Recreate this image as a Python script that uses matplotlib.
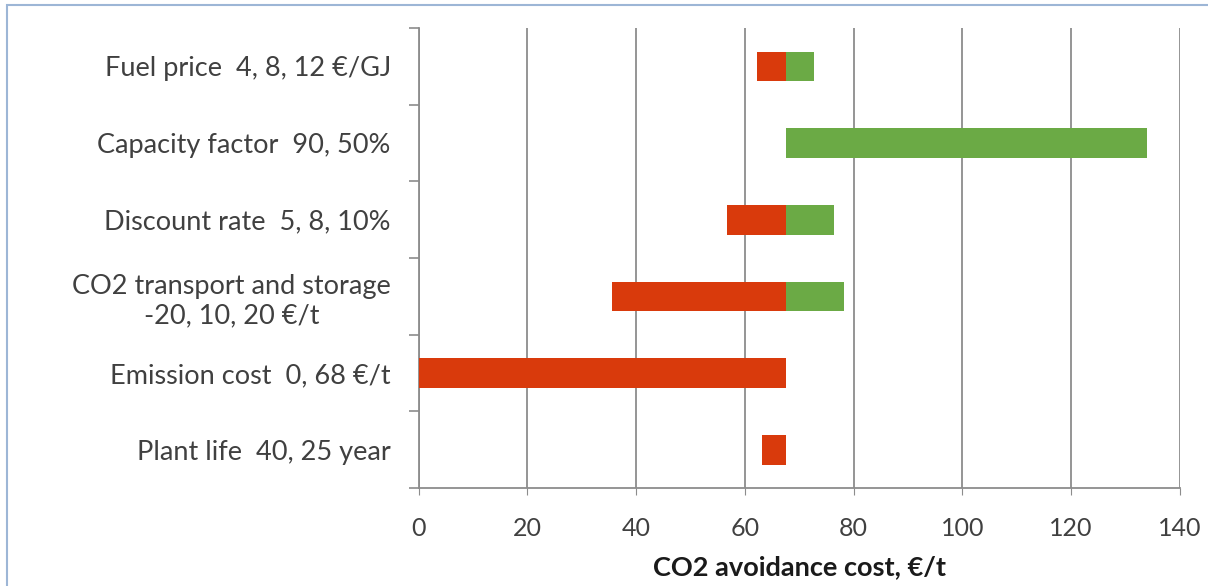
import numpy as np
import matplotlib.pyplot as plt
from matplotlib.patches import Rectangle

# sensitivity of the CO2 avoidance cost to each input (tornado chart)
labels = ['Fuel price  4, 8, 12 €/GJ',
          'Capacity factor  90, 50%',
          'Discount rate  5, 8, 10%',
          'CO2 transport and storage\n-20, 10, 20 €/t',
          'Emission cost  0, 68 €/t',
          'Plant life  40, 25 year']
base_cost = 67.6
low_cost = [62.2, 67.6, 56.7, 35.6, 0.0, 63.1]
high_cost = [72.7, 133.9, 76.4, 78.2, 67.6, 67.6]
xticks = [0, 20, 40, 60, 80, 100, 120, 140]

red = '#D93A0C'
green = '#6BAA45'
grey = '#8C8C8C'
text_col = '#404040'

plt.rcParams['font.family'] = ['Lato', 'DejaVu Sans']

fig = plt.figure(figsize=(12.08, 5.86), dpi=100)
ax = fig.add_axes([0.3465, 0.167, 0.9768 - 0.3465, 0.952 - 0.167])

y = np.arange(len(labels))
low = np.array(low_cost)
high = np.array(high_cost)
ax.barh(y, base_cost - low, left=low, height=0.39, color=red, zorder=3)
ax.barh(y, high - base_cost, left=base_cost, height=0.39, color=green, zorder=3)

ax.set_xlim(0, 140)
ax.set_ylim(len(labels) - 0.5, -0.5)

ax.set_xticks(xticks)
ax.set_xticklabels([str(v) for v in xticks], fontsize=18, color=text_col)
ax.tick_params(axis='x', length=5, color=grey, pad=16)

ax.set_yticks(y)
ax.set_yticklabels(labels, fontsize=19.5, color=text_col, multialignment='center')
ax.set_yticks(np.arange(len(labels) + 1) - 0.5, minor=True)
ax.tick_params(axis='y', which='major', length=0, pad=20)
ax.tick_params(axis='y', which='minor', length=7, color=grey, width=1.2)

ax.grid(axis='x', color=grey, linewidth=1.3, zorder=0)
for s in ['top', 'right']:
    ax.spines[s].set_visible(False)
for s in ['left', 'bottom']:
    ax.spines[s].set_color(grey)
    ax.spines[s].set_linewidth(1.3)

ax.set_xlabel('CO2 avoidance cost, €/t', fontsize=19.5, fontweight='bold',
              color='#1a1a1a', labelpad=11)

# chart-area border, only top and left edges fall inside the image
fig.patches.append(Rectangle((7 / 1208, -0.1), 1.2, (586 - 5) / 586 + 0.1,
                             transform=fig.transFigure, fill=False,
                             edgecolor='#9DB6D6', linewidth=1.5))

fig.savefig('out.png', dpi=100)
